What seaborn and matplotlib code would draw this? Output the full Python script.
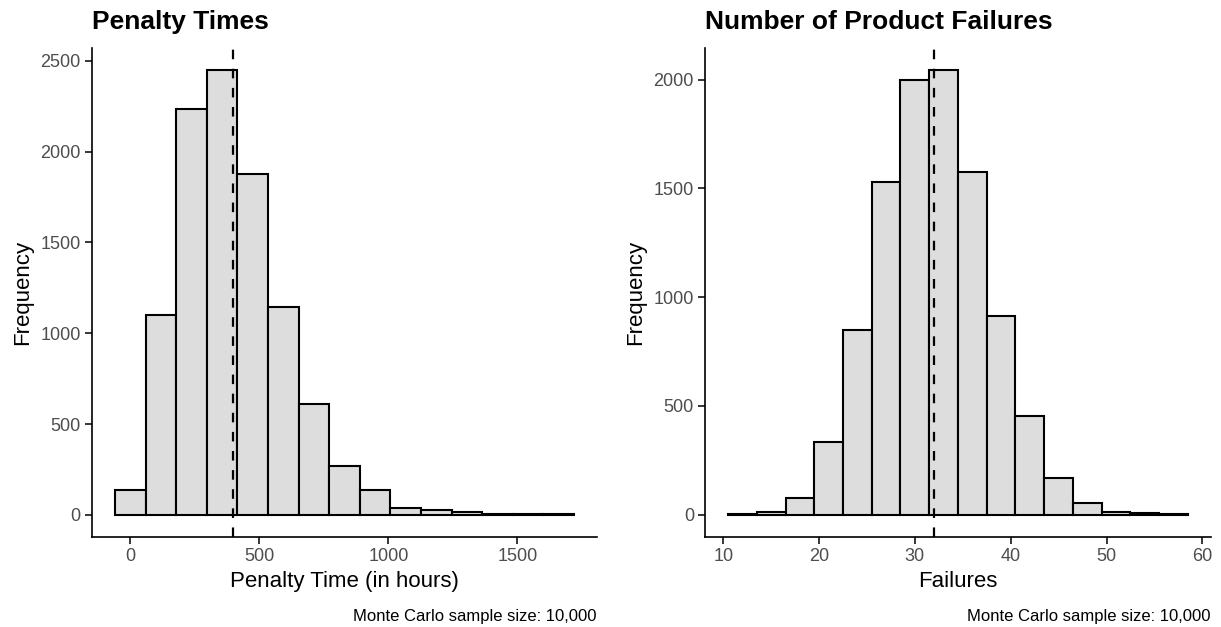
import numpy as np
import pandas as pd
import matplotlib
matplotlib.use("Agg")
import matplotlib.pyplot as plt
import seaborn as sns

# Penalty times: bin centres (hours) and counts
penalty_centers = [0, 119, 237, 356, 474, 593, 712, 830, 949, 1067, 1186, 1305, 1423, 1542, 1660]
penalty_counts = [139, 1102, 2235, 2449, 1877, 1145, 610, 267, 139, 38, 24, 13, 6, 2, 5]
penalty_mean = 400

# Product failures: bin centres and counts
failure_centers = [12, 15, 18, 21, 24, 27, 30, 33, 36, 39, 42, 45, 48, 51, 54, 57]
failure_counts = [3, 12, 75, 334, 849, 1531, 2000, 2043, 1574, 914, 452, 171, 55, 12, 7, 2]
failure_mean = 32

penalty_ticks = [0, 500, 1000, 1500]
penalty_yticks = [0, 500, 1000, 1500, 2000, 2500]
failure_ticks = [10, 20, 30, 40, 50, 60]
failure_yticks = [0, 500, 1000, 1500, 2000]

sns.set_theme(style="ticks")
plt.rcParams['font.family'] = ['Liberation Sans', 'DejaVu Sans']
plt.rcParams['text.color'] = 'black'
plt.rcParams['axes.labelcolor'] = 'black'

fig = plt.figure(figsize=(12.21, 6.27), dpi=100)
ax1 = fig.add_axes([0.0753, 0.1435, 0.4136, 0.780])
ax2 = fig.add_axes([0.5774, 0.1435, 0.4144, 0.780])


def edges_from(centers):
    c = np.asarray(centers, dtype=float)
    w = c[1] - c[0]
    return list(np.append(c - w / 2, c[-1] + w / 2))


panels = [
    (ax1, penalty_centers, penalty_counts, penalty_mean, "Penalty Times",
     "Penalty Time (in hours)", penalty_ticks, penalty_yticks),
    (ax2, failure_centers, failure_counts, failure_mean, "Number of Product Failures",
     "Failures", failure_ticks, failure_yticks),
]

for ax, centers, counts, mean, title, xlabel, xt, yt in panels:
    df = pd.DataFrame({"x": centers, "n": counts})
    edges = edges_from(centers)
    sns.histplot(data=df, x="x", weights="n", bins=edges, ax=ax,
                 color="#DDDDDD", alpha=1, edgecolor="black", linewidth=1.5)
    ax.axvline(mean, color="black", linestyle=(0, (4.3, 4.3)), linewidth=1.6)
    lo, hi = edges[0], edges[-1]
    pad = (hi - lo) * 0.05
    ax.set_xlim(lo - pad, hi + pad)
    top = max(counts)
    ax.set_ylim(-top * 0.05, top * 1.05)
    ax.set_xticks(xt)
    ax.set_yticks(yt)
    ax.tick_params(axis="both", labelsize=13, labelcolor="#4D4D4D", color="black",
                   length=5, width=1.1, pad=3)
    for s in ["left", "bottom"]:
        ax.spines[s].set_color("black")
        ax.spines[s].set_linewidth(1.2)
    sns.despine(ax=ax)
    ax.set_title(title, loc="left", fontsize=19, fontweight="bold", color="black", pad=14)
    ax.set_xlabel(xlabel, fontsize=16, labelpad=4)
    ax.set_ylabel("Frequency", fontsize=16, labelpad=5)
    ax.text(1.0, -0.162, "Monte Carlo sample size: 10,000", transform=ax.transAxes,
            ha="right", va="center", fontsize=12)

fig.savefig("out.png", dpi=100)
